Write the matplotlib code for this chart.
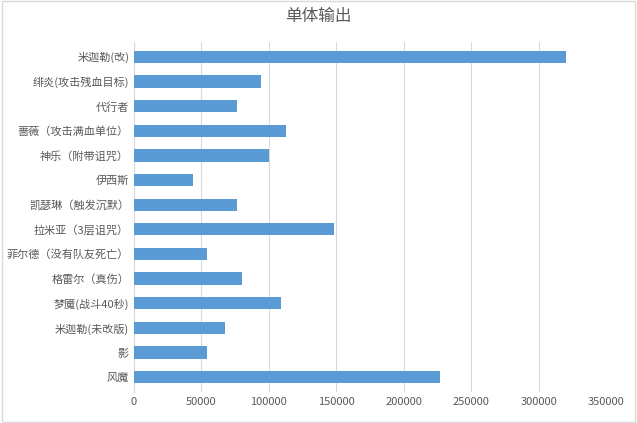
import matplotlib.pyplot as plt
from matplotlib import font_manager

# find an installed CJK font
cjk = [f for f in font_manager.findSystemFonts() if 'CJK' in f or 'cjk' in f]
for f in cjk:
    font_manager.fontManager.addfont(f)
names_avail = sorted({font_manager.FontProperties(fname=f).get_name() for f in cjk})
plt.rcParams['font.family'] = names_avail[:1] + ['Noto Sans CJK SC', 'Noto Sans CJK JP', 'DejaVu Sans']

names = ['米迦勒(改)', '绯炎(攻击残血目标)', '代行者', '蔷薇（攻击满血单位）', '神乐（附带诅咒）',
         '伊西斯', '凯瑟琳（触发沉默）', '拉米亚（3层诅咒）', '菲尔德（没有队友死亡）',
         '格雷尔（真伤）', '梦魇(战斗40秒)', '米迦勒(未改版)', '影', '风魔']
values = [320000, 94300, 76500, 113000, 100300, 44000, 76500, 148500, 54000,
          80000, 109000, 67500, 54000, 226600]
xticks = [0, 50000, 100000, 150000, 200000, 250000, 300000, 350000]

fig = plt.figure(figsize=(6.37, 4.23), dpi=100)
ax = fig.add_axes([134/637, 31/423, 472/637, 350/423])
pos = list(range(len(names)))[::-1]
ax.barh(pos, values, height=0.5, color='#5b9bd5', zorder=3)
ax.set_yticks(pos)
ax.set_yticklabels(names, fontsize=8, color='#595959')
ax.set_xlim(0, 350000)
ax.set_ylim(-0.6, len(names) - 0.4)
ax.set_xticks(xticks)
ax.set_xticklabels([str(t) for t in xticks], fontsize=8, color='#595959')
ax.grid(axis='x', color='#d9d9d9', linewidth=0.8, zorder=0)
for s in ['top', 'right', 'bottom']:
    ax.spines[s].set_visible(False)
ax.spines['left'].set_color('#d9d9d9')
ax.tick_params(length=0)
fig.text(0.5, 0.96, '单体输出', ha='center', va='center', fontsize=12, color='#595959')
fig.patches.append(plt.Rectangle((0.003, 0.003), 0.994, 0.994, transform=fig.transFigure,
                                 fill=False, edgecolor='#d9d9d9', linewidth=1))
fig.savefig('out.png')
